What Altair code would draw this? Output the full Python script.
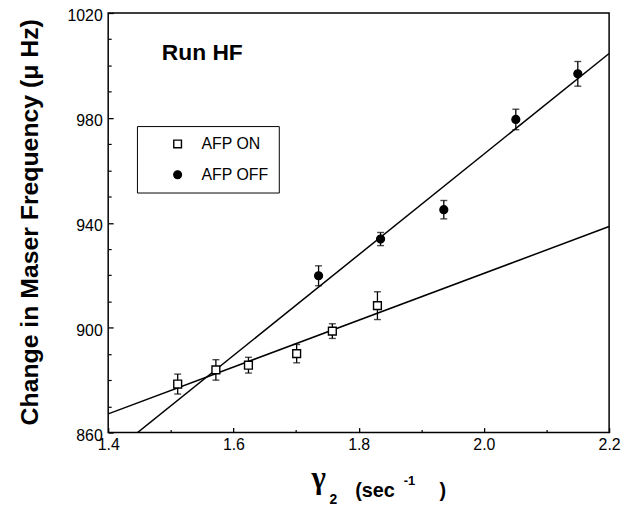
import altair as alt
import pandas as pd

# ---- data ----
on_x = [1.511, 1.572, 1.624, 1.701, 1.758, 1.830]
on_y = [878.5, 883.9, 885.7, 890.1, 898.7, 908.4]
on_err = [3.8, 3.9, 3.0, 3.5, 2.8, 5.3]

off_x = [1.736, 1.835, 1.936, 2.051, 2.150]
off_y = [919.8, 933.8, 945.0, 979.4, 996.8]
off_err = [3.8, 2.5, 3.5, 3.9, 4.7]

series_names = ["AFP ON", "AFP OFF"]
x_major = [1.4, 1.6, 1.8, 2.0, 2.2]
x_minor = [1.5, 1.7, 1.9, 2.1]
y_major = [860, 900, 940, 980, 1020]
y_minor = [870, 880, 890, 910, 920, 930, 950, 960, 970, 990, 1000, 1010]

rows = []
for xs, ys, es, name in [(on_x, on_y, on_err, "AFP ON"), (off_x, off_y, off_err, "AFP OFF")]:
    for x, y, e in zip(xs, ys, es):
        rows.append({"series": name, "x": x, "y": y, "lo": y - e, "hi": y + e})
df = pd.DataFrame(rows)

FONT = "Liberation Sans"
x_scale = alt.Scale(domain=[1.4, 2.2], nice=False, zero=False)
y_scale = alt.Scale(domain=[860, 1020], nice=False, zero=False)

major_x = alt.Axis(orient="bottom", values=x_major, format=".1f", tickSize=5, offset=-5,
                   domain=False, grid=False, title=None, labelPadding=4, labelFontSize=16,
                   labelFont=FONT, labelColor="black", tickColor="black", tickWidth=1.3,
                   labelFlush=False, labelOverlap=False)
major_y = alt.Axis(orient="left", values=y_major, format="d", tickSize=5, offset=-5,
                   domain=False, grid=False, title=None, labelPadding=6, labelFontSize=16,
                   labelFont=FONT, labelColor="black", tickColor="black", tickWidth=1.3,
                   labelFlush=False, labelOverlap=False, labelOffset=3)
minor_x = alt.Axis(orient="bottom", values=x_minor, labels=False, tickSize=3, offset=-3,
                   domain=False, grid=False, title=None, tickColor="black", tickWidth=1.2)
minor_y = alt.Axis(orient="left", values=y_minor, labels=False, tickSize=3, offset=-3,
                   domain=False, grid=False, title=None, tickColor="black", tickWidth=1.2)

base = alt.Chart(df)

errbars = base.mark_rule(color="black", strokeWidth=1.3).encode(
    x=alt.X("x:Q", scale=x_scale, axis=minor_x),
    y=alt.Y("lo:Q", scale=y_scale, axis=minor_y),
    y2="hi:Q",
)

caps = base.transform_fold(["lo", "hi"], as_=["end", "val"]).mark_tick(
    orient="horizontal", size=7, thickness=1.4, color="black"
).encode(
    x=alt.X("x:Q", scale=x_scale, axis=None),
    y=alt.Y("val:Q", scale=y_scale, axis=None),
)

lines = base.transform_regression(
    "x", "y", groupby=["series"], extent=[1.4, 2.2]
).mark_line(clip=True, color="black", strokeWidth=1.5).encode(
    x=alt.X("x:Q", scale=x_scale, axis=None),
    y=alt.Y("y:Q", scale=y_scale, axis=None),
    detail="series:N",
)

legend = alt.Legend(orient="none", legendX=29, legendY=114, title=None, padding=10,
                    strokeColor="black", fillColor="white", symbolOffset=23, labelOffset=16,
                    labelFontSize=16, labelFont=FONT, labelColor="black", rowPadding=15,
                    symbolSize=60, symbolStrokeWidth=1.4)

points = base.mark_point(filled=True, strokeWidth=1.4, size=62, opacity=1).encode(
    x=alt.X("x:Q", scale=x_scale, axis=major_x),
    y=alt.Y("y:Q", scale=y_scale, axis=major_y),
    shape=alt.Shape("series:N", scale=alt.Scale(domain=series_names, range=["square", "circle"]),
                    legend=legend),
    fill=alt.Fill("series:N", scale=alt.Scale(domain=series_names, range=["white", "black"]),
                  legend=legend),
    stroke=alt.Stroke("series:N", scale=alt.Scale(domain=series_names, range=["black", "black"]),
                      legend=legend),
)

one = alt.Data(values=[{}])


def label(text, px, py, size, weight="normal", font=FONT, angle=0, align="left", baseline="alphabetic"):
    return alt.Chart(one).mark_text(
        text=text, font=font, fontSize=size, fontWeight=weight, angle=angle,
        align=align, baseline=baseline, color="black"
    ).encode(x=alt.value(px), y=alt.value(py))


texts = [
    label("Run HF", 54, 47, 23, "bold"),
    label("Change   in   Maser   Frequency    (μ Hz)", -79, 211, 25, "bold", angle=270,
          align="center", baseline="middle"),
    label("γ", 205, 479, 31, "bold", font="Liberation Serif"),
    label("2", 223, 495, 14, "bold"),
    label("(sec", 249, 488, 20, "bold"),
    label("-1", 298, 476, 13, "bold"),
    label(")", 334, 488, 20, "bold"),
]

chart = alt.layer(errbars, caps, lines, points, *texts).resolve_axis(
    x="independent", y="independent"
).properties(
    width=505, height=423,
    autosize=alt.AutoSizeParams(type="none"),
    padding={"left": 101, "top": 3, "right": 14, "bottom": 74},
    background="white",
).configure_view(stroke="black", strokeWidth=1.5)

chart.save("out.html", embed_options={"renderer": "svg", "actions": False})
